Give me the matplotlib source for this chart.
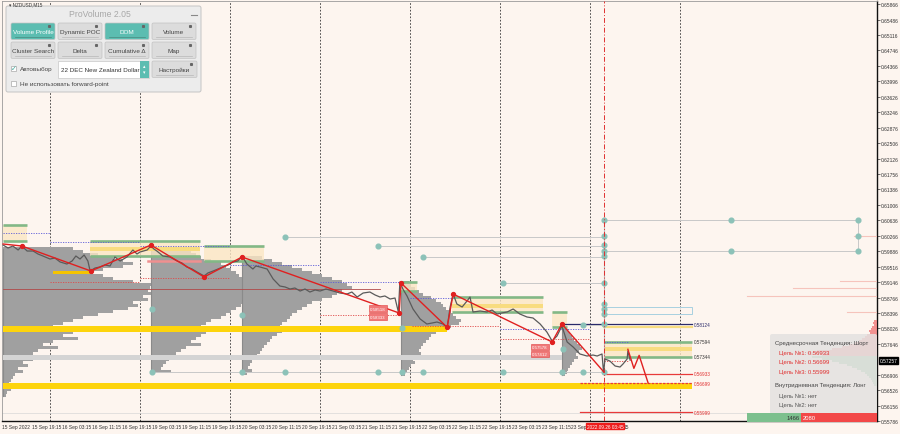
import matplotlib.pyplot as plt
from matplotlib.patches import Rectangle, FancyBboxPatch
from matplotlib.transforms import blended_transform_factory
import numpy as np

plt.rcParams['font.family'] = ['Liberation Sans', 'DejaVu Sans']

BG = '#fdf5ef'

# time axis: hours on the trading timeline counted from 15 Sep 00:00 (weekend skipped)
# price path, NZDUSD M15
price_t = [11.5, 12.8, 14.1, 15.5, 16.5, 17.9, 19.5, 20.8, 22.1, 24.0, 25.3, 26.7, 28.5, 29.9,
           30.9, 32.0, 33.1, 34.1, 34.7, 36.0, 37.3, 38.7, 40.0, 41.3, 42.7, 44.5, 46.1, 47.2,
           48.0, 49.9, 50.9, 51.7, 52.5, 54.1, 56.0, 57.9, 59.2, 60.5, 61.9, 63.2, 65.1, 66.1,
           67.5, 68.8, 70.1, 71.5, 72.8, 74.1, 75.2, 76.5, 78.1, 78.9, 80.0, 81.9, 83.5, 85.3,
           86.7, 88.0, 89.3, 90.7, 92.0, 93.3, 94.7, 96.0, 97.6, 99.5, 101.3, 103.2, 104.5, 105.9,
           107.5, 109.3, 110.7, 112.0, 113.3, 114.7, 116.0, 116.9, 117.3, 118.1, 119.2, 120.8,
           122.7, 124.5, 125.9, 127.2, 128.8, 129.9, 130.7, 131.5, 132.5, 133.9, 135.2, 136.0,
           136.8, 138.7, 140.5, 141.9, 143.2, 144.5, 145.9, 147.5, 149.3, 151.2, 152.8, 154.7,
           156.5, 157.9, 159.2, 160.5, 161.9, 163.5, 165.3, 167.2, 168.8, 169.9, 171.2, 171.6,
           172.0, 173.3, 174.7, 176.0, 176.8, 177.9, 178.1, 178.7]
price_v = [0.60040, 0.59968, 0.60016, 0.59920, 0.60016, 0.59895, 0.59895, 0.59823, 0.59775, 0.59702,
           0.59726, 0.59630, 0.59581, 0.59654, 0.59775, 0.59702, 0.59799, 0.59654, 0.59412, 0.59484,
           0.59509, 0.59557, 0.59533, 0.59750, 0.59654, 0.59750, 0.59920, 0.59823, 0.59871, 0.59920,
           0.60016, 0.59944, 0.59895, 0.59775, 0.59750, 0.59654, 0.59605, 0.59509, 0.59460, 0.59388,
           0.59291, 0.59364, 0.59412, 0.59460, 0.59509, 0.59557, 0.59630, 0.59654, 0.59775, 0.59581,
           0.59460, 0.59533, 0.59509, 0.59460, 0.59219, 0.59049, 0.59025, 0.58977, 0.59001, 0.58928,
           0.58977, 0.58904, 0.58953, 0.58928, 0.58977, 0.58928, 0.58880, 0.58856, 0.58904, 0.58783,
           0.58880, 0.58904, 0.58832, 0.58783, 0.58808, 0.58735, 0.58759, 0.58421, 0.59146, 0.58977,
           0.58808, 0.58493, 0.58252, 0.58131, 0.58155, 0.58179, 0.58131, 0.58034, 0.58542, 0.58856,
           0.58614, 0.58542, 0.58687, 0.58783, 0.58421, 0.58445, 0.58421, 0.58469, 0.58372, 0.58397,
           0.58421, 0.58493, 0.58372, 0.58300, 0.58276, 0.58131, 0.57937, 0.57720, 0.57841, 0.58082,
           0.57696, 0.57575, 0.57406, 0.57357, 0.57381, 0.57357, 0.57406, 0.56970, 0.57285, 0.57236,
           0.57115, 0.57091, 0.57164, 0.57285, 0.57478, 0.57257]

# zigzag pivots and forecast
zz_t = [11.5, 16.5, 34.9, 50.9, 65.1, 75.2, 117.1, 117.6, 129.9, 131.5, 157.9, 160.5, 171.7]
zz_v = [0.60065, 0.60016, 0.59412, 0.60040, 0.59267, 0.59750, 0.58397, 0.59122, 0.58051, 0.58856,
        0.57696, 0.58131, 0.56970]
fc_t = [178.1, 179.7, 181.1, 183.5]
fc_v = [0.57519, 0.57059, 0.57373, 0.56704]

# volume profiles: anchor time, top level, widths (hours) per level going down
step = 0.000725
prof_anchor = [11.5, 51.0, 75.2, 117.6, 160.5]
prof_top = [0.59944, 0.59944, 0.59750, 0.59146, 0.58058]
prof_a = [18.7, 21.3, 25.3, 29.3, 32, 34.7, 32, 26.7, 24, 26.7, 29.3, 34.7, 40, 39.2, 38.7, 39.5,
          37.3, 38.7, 34.7, 36, 33.3, 29.3, 25.3, 21.3, 18.7, 16, 13.3, 12, 18.7, 16, 20, 13.3, 10.7,
          14.7, 9.3, 8, 6.7, 8, 5.3, 6.7, 4, 5.3, 3.2, 2.7, 2.1, 1.6, 1.3, 2.1, 1.1, 0.8]
prof_b = [8, 10.7, 12, 13.3, 16, 18.7, 20, 21.3, 22.7, 23.5, 25.3, 29.3, 34.7, 40, 37.3, 36, 32,
          26.7, 25.3, 24, 22.7, 21.3, 20, 18.7, 16, 14.7, 13.3, 12, 14.7, 13.3, 12, 10.7, 13.3, 9.3,
          8, 6.7, 5.3, 4.8, 4, 3.2, 2.7, 5.3]
prof_c = [5.3, 8, 10.7, 13.3, 16, 18.7, 21.3, 24, 26.7, 28, 29.3, 26.7, 25.3, 24, 21.3, 18.7, 17.3,
          16, 14.7, 13.3, 12.8, 12, 10.7, 10.1, 9.3, 10.7, 9.3, 8, 7.5, 6.7, 5.9, 5.3, 4.8, 4, 3.2,
          2.7, 2.1, 1.6, 2.7, 1.3]
prof_d = [2.1, 2.7, 3.7, 4.8, 5.9, 8, 9.3, 10.7, 11.2, 12, 13.3, 13.9, 14.7, 16, 15.5, 13.3, 12,
          9.3, 8, 7.5, 6.7, 5.9, 5.3, 4.8, 5.3, 4, 3.2, 3.7, 2.7, 2.1, 1.6, 1.1]
prof_e = [1.1, 1.6, 2.1, 2.7, 3.2, 4, 4.8, 5.3, 4.5, 3.7, 4.3, 3.2, 2.7, 2.1, 1.6, 1.3, 0.8]
profiles = [prof_a, prof_b, prof_c, prof_d, prof_e]

# value areas: start, end, high, low, poc band (lo, hi) or None
va_t0 = [11.5, 34.7, 65.1, 117.3, 131.2, 157.9, 171.7]
va_t1 = [17.9, 64.0, 81.1, 121.9, 155.5, 161.9, 195.2]
va_hi = [0.60524, 0.60137, 0.60016, 0.59146, 0.58783, 0.58421, 0.57700]
va_lo = [0.60137, 0.59775, 0.59654, 0.58928, 0.58421, 0.58058, 0.57344]
va_poc = [None, (0.59895, 0.59992), None, None, (0.58517, 0.58614), None, (0.57478, 0.57575)]

# dotted session levels: t0, t1, price
blue_dots = [(11.5, 24, 0.60330), (24, 48, 0.60113), (48, 72, 0.60016), (72, 96, 0.59557),
             (96, 117.3, 0.59146), (120, 131.5, 0.58759), (144, 168, 0.58010), (171.7, 178, 0.57696)]
red_dots = [(24, 48, 0.59146), (48, 72, 0.59243), (96, 117.1, 0.58348), (120.5, 144, 0.58082),
            (144, 168, 0.57768), (171.7, 178, 0.57236)]

# teal marks
teal_t = [86.7, 111.5, 123.5, 144.8, 166.1, 51.2, 75.2, 117.9, 160.8,
          51.2, 75.2, 86.7, 111.5, 117.9, 123.5, 144.8, 160.5, 166.1,
          171.7, 171.7, 171.7, 171.7, 171.7, 171.7, 171.7, 171.7, 171.7, 171.7, 171.7,
          205.6, 239.5, 239.5, 239.5, 205.6]
teal_v = [0.60234, 0.60016, 0.59750, 0.59122, 0.58107, 0.58493, 0.58348, 0.58034, 0.57526,
          0.56970, 0.56970, 0.56970, 0.56970, 0.56970, 0.56970, 0.56970, 0.56970, 0.56970,
          0.60645, 0.60258, 0.60040, 0.59895, 0.59775, 0.59122, 0.58614, 0.58493, 0.58372, 0.58131, 0.56970,
          0.60645, 0.60645, 0.60258, 0.59895, 0.59895]
teal_links = [(86.7, 171.7, 0.60234), (111.5, 171.7, 0.60016), (123.5, 171.7, 0.59750),
              (144.8, 171.7, 0.59122), (166.1, 171.7, 0.58107), (51.2, 171.7, 0.56970),
              (171.7, 239.5, 0.60645), (171.7, 239.5, 0.59895)]

# forecast targets
levels_val = [0.58124, 0.57594, 0.57344]
levels_pos = [0.58124, 0.57700, 0.57344]
targets = [0.56933, 0.56699, 0.55999]

# DOM at right edge
dom_ask_top = 0.58203
dom_ask = [0.8, 1.1, 0.8, 1.3, 1.6, 2.1, 1.9, 2.7, 3.2, 4, 4.8, 5.9, 7.5, 9.3, 12, 16, 18.7, 14.7]
dom_bid_top = 0.57333
dom_bid = [17.3, 14.7, 12, 10.1, 8, 6.7, 5.3, 4.3, 3.2, 2.7, 2.1, 1.6, 1.3, 1.1, 0.8]
dom_lines_p = [0.60258, 0.59170, 0.59001, 0.58808, 0.58421]
dom_lines_w = [6, 9.9, 22.4, 34.7, 8]
bid_total, ask_total = 1466, 2080

y_ticks = [0.65866, 0.65486, 0.65116, 0.64746, 0.64366, 0.63996, 0.63626, 0.63246, 0.62876, 0.62506,
           0.62126, 0.61756, 0.61386, 0.61006, 0.60636, 0.60266, 0.59886, 0.59516, 0.59146, 0.58766,
           0.58396, 0.58026, 0.57646, 0.56906, 0.56526, 0.56156, 0.55786]
# the last time label is mostly hidden under the red cursor box; only its visible parts are kept
x_ticks = [11.25, 19.25, 27.25, 35.25, 43.25, 51.25, 59.25, 67.25, 75.25, 83.25, 91.25, 99.25,
           107.25, 115.25, 123.25, 131.25, 139.25, 147.25, 155.25, 163.0, 176.9]
x_labels = ['15 Sep 2022', '15 Sep 19:15', '16 Sep 03:15', '16 Sep 11:15', '16 Sep 19:15',
            '19 Sep 03:15', '19 Sep 11:15', '19 Sep 19:15', '20 Sep 03:15', '20 Sep 11:15',
            '20 Sep 19:15', '21 Sep 03:15', '21 Sep 11:15', '21 Sep 19:15', '22 Sep 03:15',
            '22 Sep 11:15', '22 Sep 19:15', '23 Sep 03:15', '23 Sep 11:15', '23 Sep',
            '15']
day_lines = [24, 48, 72, 96, 120, 144, 168, 192]
now_t = 171.75
last_price = 0.57257

fig = plt.figure(figsize=(9, 4.35), dpi=100, facecolor=BG)
ax = fig.add_axes([2 / 900, 13 / 435, 875 / 900, 420 / 435], facecolor=BG)
XMAX = 244.53
ax.set_xlim(11.2, XMAX)
ax.set_ylim(0.55786, 0.65939)

for d in day_lines:
    ax.axvline(d, color='#333333', lw=0.6, ls=(0, (2, 2)), zorder=1)

# volume profiles
for anc, top, w in zip(prof_anchor, prof_top, profiles):
    lv = top - step * np.arange(len(w))
    ax.barh(lv, w, height=step, left=anc, color='#a0a0a0', lw=0, zorder=2)
    ax.plot([anc, anc], [lv[-1], lv[0]], color='#8a8a8a', lw=0.8, zorder=2)

# bands
ax.fill_between([11.5, 129.9], 0.57937, 0.58082, color='#fdd40c', lw=0, zorder=3)
ax.fill_between([11.5, 195.2], 0.56560, 0.56704, color='#fdd40c', lw=0, zorder=3)
ax.fill_between([11.5, 160.5], 0.57261, 0.57381, color='#d4d4d4', lw=0, zorder=3)
ax.fill_between([24.8, 34.7], 0.59330, 0.59400, color='#f5c400', lw=0, zorder=3)
ax.plot([11.5, 112], [0.58977, 0.58977], color='#b04848', lw=0.6, zorder=3)
ax.plot([50, 64], [0.59654, 0.59654], color='#f09090', lw=1.8, zorder=3)
ax.axhline(0.55980, color='#d8d8d8', lw=0.5, zorder=1)

# value areas
for t0, t1, hi, lo, poc in zip(va_t0, va_t1, va_hi, va_lo, va_poc):
    ax.fill_between([t0, t1], lo, hi, color='#fbe6c4', alpha=0.8, lw=0, zorder=3)
    if poc:
        ax.fill_between([t0, t1], poc[0], poc[1], color='#f8dc80', lw=0, zorder=3)
    ax.plot([t0, t1], [hi, hi], color='#82b886', lw=1.9, zorder=4, solid_capstyle='butt')
    ax.plot([t0, t1], [lo, lo], color='#82b886', lw=1.9, zorder=4, solid_capstyle='butt')

ax.plot([160.5, 195.2], [levels_pos[0]] * 2, color='#2a2a6a', lw=0.9, zorder=4)
ax.plot([171.7, 195.2], [0.58058] * 2, color='#f8dc80', lw=1.6, zorder=4)
ax.add_patch(Rectangle((171.7, 0.58372), 23.5, 0.00170, fc='none', ec='#a8d0e0', lw=0.7, zorder=4))

for t0, t1, p in blue_dots:
    ax.plot([t0, t1], [p, p], color='#5a5ad8', lw=0.6, ls=(0, (1.5, 1.5)), zorder=4)
for t0, t1, p in red_dots:
    ax.plot([t0, t1], [p, p], color='#e04848', lw=0.6, ls=(0, (1.5, 1.5)), zorder=4)

# teal links and marks
for t0, t1, p in teal_links:
    ax.plot([t0, t1], [p, p], color='#c8c8c8', lw=0.7, zorder=4)
ax.plot([171.7, 171.7], [0.56970, 0.60645], color='#bcbcbc', lw=0.8, zorder=4)
ax.plot([239.5, 239.5], [0.59895, 0.60645], color='#c8c8c8', lw=0.7, zorder=4)
ax.plot(teal_t, teal_v, 'o', ms=3.4, color='#8cc2b8', mec='#8cc2b8', zorder=6)

# targets
ax.plot([171.7, 195.2], [targets[0]] * 2, color='#e83a3a', lw=0.9, zorder=5)
ax.plot([165.3, 195.2], [targets[1]] * 2, color='#e83a3a', lw=0.9, ls=(0, (2, 1)), zorder=5)
ax.plot([165.3, 195.2], [targets[2]] * 2, color='#e83a3a', lw=0.9, zorder=5)

# price and zigzag
ax.plot(price_t, price_v, color='#5a5a5a', lw=0.9, zorder=7)
ax.plot(zz_t, zz_v, color='#e02020', lw=1.0, zorder=8)
ax.plot(zz_t[1:-1], zz_v[1:-1], 'o', ms=2.8, color='#e02020', zorder=9)
ax.plot(fc_t, fc_v, color='#e02020', lw=1.0, zorder=8)

# level labels
for lbl_box in [(111.4, 0.58505, '0.58518'), (111.4, 0.58312, '0.58333'),
                (154.6, 0.57575, '0.57578'), (154.6, 0.57406, '0.57412')]:
    ax.text(lbl_box[0], lbl_box[1], lbl_box[2], fontsize=3.2, color='white', ha='center', va='center',
            zorder=10, bbox=dict(boxstyle='square,pad=0.25', fc='#f07878', ec='#e04040', lw=0.4))
for v, p, c in zip(levels_val, levels_pos, ['#2a2a6a', '#333333', '#333333']):
    ax.text(195.8, p, '%.5f' % v, fontsize=3.3, color=c, va='center', zorder=10)
for v in targets:
    ax.text(195.8, v, '%.5f' % v, fontsize=3.3, color='#e03030', va='center', zorder=10)

ax.axvline(now_t, color='#e03030', lw=0.7, ls=(0, (5, 2, 1, 2)), zorder=6)

# DOM
lv = dom_ask_top - 0.00048 * np.arange(len(dom_ask))
ax.barh(lv, dom_ask, height=0.00048, left=XMAX - np.array(dom_ask), color='#f07a7a', alpha=0.8, lw=0, zorder=5)
lv = dom_bid_top - 0.00048 * np.arange(len(dom_bid))
ax.barh(lv, dom_bid, height=0.00048, left=XMAX - np.array(dom_bid), color='#7cc096', alpha=0.8, lw=0, zorder=5)
for p, w in zip(dom_lines_p, dom_lines_w):
    ax.plot([XMAX - w, XMAX], [p, p], color='#f6c4bc', lw=0.8, zorder=5)

# axes style
for s in ['top', 'left']:
    ax.spines[s].set_color('#9a9a9a')
    ax.spines[s].set_linewidth(0.6)
for s in ['right', 'bottom']:
    ax.spines[s].set_color('#111111')
    ax.spines[s].set_linewidth(1.0)
ax.yaxis.tick_right()
ax.set_yticks(y_ticks)
ax.set_yticklabels(['%.5f' % v for v in y_ticks])
ax.tick_params(axis='y', length=2, pad=1, labelsize=3.5, labelcolor='#333333', color='#333333', width=0.5)
ax.set_xticks(x_ticks)
ax.set_xticklabels(x_labels, ha='left')
ax.tick_params(axis='x', length=0, pad=2, labelsize=3.5, labelcolor='#333333')

bt = blended_transform_factory(ax.transAxes, ax.transData)
ax.text(1.003, last_price, '%.5f' % last_price, transform=bt, fontsize=3.5, color='white', va='center',
        ha='left', bbox=dict(boxstyle='square,pad=0.2', fc='black', ec='black'), clip_on=False, zorder=12)
bt2 = blended_transform_factory(ax.transData, ax.transAxes)
ax.text(now_t + 0.3, -0.006, '2022.09.26 03:45', transform=bt2, fontsize=3.4, color='white', va='top',
        ha='center', bbox=dict(boxstyle='square,pad=0.15', fc='#ee1c1c', ec='#ee1c1c'),
        clip_on=False, zorder=12)

# overlay in pixel coordinates for the panels
ov = fig.add_axes([0, 0, 1, 1], facecolor='none', zorder=10)
ov.set_xlim(0, 900)
ov.set_ylim(435, 0)
ov.axis('off')

ov.text(9, 4.5, '▾ NZDUSD,M15', fontsize=3.3, color='#333333', va='center')
ov.add_patch(FancyBboxPatch((6, 7), 195, 86, boxstyle='round,pad=0,rounding_size=2',
                            fc='#ececec', ec='#c4c4c4', lw=0.7))
ov.text(100, 14.5, 'ProVolume 2.05', fontsize=6.2, color='#a8a8a8', ha='center', va='center')
ov.plot([191, 197], [16, 16], color='#888888', lw=0.8)


def button(x0, y0, w, h, label, active):
    face = '#5cbdb1' if active else '#dcdcdc'
    ov.add_patch(FancyBboxPatch((x0, y0), w, h, boxstyle='round,pad=0,rounding_size=1.5',
                                fc=face, ec='#c2c2c2', lw=0.5))
    ov.text(x0 + w / 2, y0 + h * 0.52, label, fontsize=4.6, ha='center', va='center',
            color='white' if active else '#444444')
    ov.plot([x0 + 4, x0 + w - 4], [y0 + h - 2.5] * 2, color='#4a8a80' if active else '#b8b8b8', lw=0.5)
    ov.plot([x0 + w - 6], [y0 + 2.5], 's', ms=1.2, color='#666666')


names1 = ['Volume Profile', 'Dynamic POC', 'DOM', 'Volume']
names2 = ['Cluster Search', 'Delta', 'Cumulative Δ', 'Map']
bx = [11, 58, 105, 152]
for i in range(4):
    button(bx[i], 24, 44, 16.5, names1[i], i in (0, 2))
    button(bx[i], 43, 44, 16.5, names2[i], False)

ov.add_patch(Rectangle((11, 67), 5, 5, fc='white', ec='#aaaaaa', lw=0.5))
ov.text(13.5, 69, '✓', fontsize=5, color='#3aa89a', ha='center', va='center')
ov.text(19.5, 70, 'Автовыбор', fontsize=4.6, color='#444444', va='center')
ov.add_patch(Rectangle((58, 62), 91, 16.5, fc='white', ec='#c8c8c8', lw=0.5))
ov.add_patch(Rectangle((140, 62), 9, 16.5, fc='#5cbdb1', ec='none'))
ov.text(144.5, 67, '▴', fontsize=3.5, color='white', ha='center', va='center')
ov.text(144.5, 73, '▾', fontsize=3.5, color='white', ha='center', va='center')
ov.text(61, 70.5, '22 DEC New Zealand Dollar', fontsize=4.5, color='#333333', va='center')
button(152, 62, 45, 16.5, 'Настройки', False)
ov.add_patch(Rectangle((11, 81.5), 5, 5, fc='white', ec='#aaaaaa', lw=0.5))
ov.text(19.5, 84.5, 'Не использовать forward-point', fontsize=4.6, color='#444444', va='center')

# trend panel
ov.add_patch(FancyBboxPatch((770, 335), 107, 80, boxstyle='round,pad=0,rounding_size=2',
                            fc='#e4e2e0', ec='none', alpha=0.85))
panel_lines = [('Среднесрочная Тенденция: Шорт', 775, 344, '#444444'),
               ('Цель №1: %.5f' % targets[0], 779, 353, '#e03030'),
               ('Цель №2: %.5f' % targets[1], 779, 362.5, '#e03030'),
               ('Цель №3: %.5f' % targets[2], 779, 372, '#e03030'),
               ('Внутридневная Тенденция: Лонг', 775, 386, '#444444'),
               ('Цель №1: нет', 779, 396, '#555555'),
               ('Цель №2: нет', 779, 405, '#555555')]
for txt, x, y, c in panel_lines:
    ov.text(x, y, txt, fontsize=4.3, color=c, va='center')
ov.add_patch(Rectangle((747, 414), 54, 8.5, fc='#7cc08e', ec='none'))
ov.add_patch(Rectangle((801, 414), 76, 8.5, fc='#f24848', ec='none'))
ov.text(800, 418.5, str(bid_total), fontsize=4.2, color='#333333', ha='right', va='center')
ov.text(802.5, 418.5, str(ask_total), fontsize=4.2, color='white', ha='left', va='center')

fig.savefig('out.png', dpi=100, facecolor=BG)
